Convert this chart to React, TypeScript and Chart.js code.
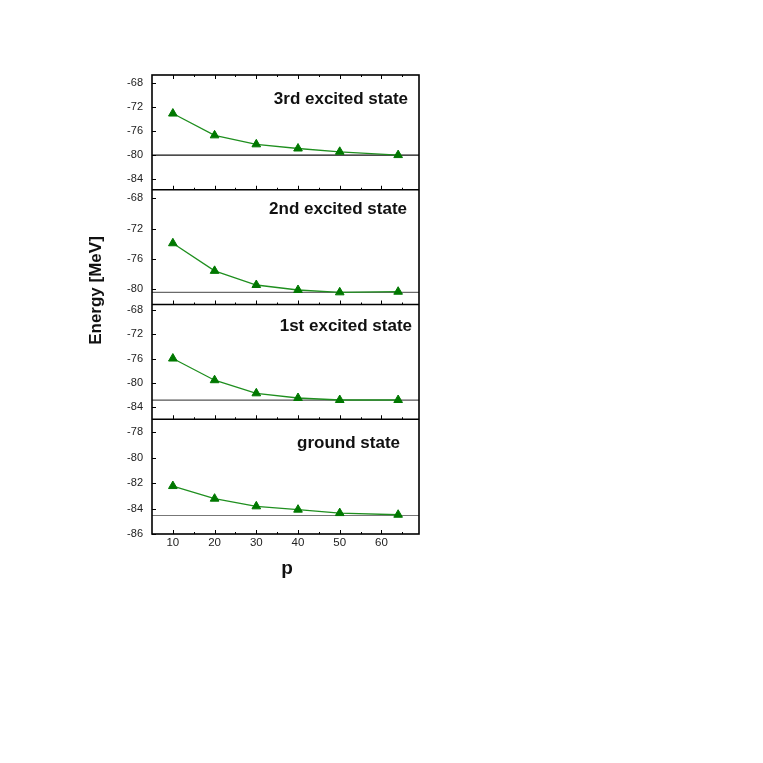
import React, { useEffect, useRef } from 'react';
import { Chart, registerables } from 'chart.js';

Chart.register(...registerables);

// ---- data ----
const pValues = [10, 20, 30, 40, 50, 64];
const thirdExcited = [-73.05, -76.7, -78.2, -78.9, -79.45, -80.0];
const secondExcited = [-73.95, -77.6, -79.47, -80.13, -80.44, -80.36];
const firstExcited = [-76.0, -79.57, -81.73, -82.5, -82.83, -82.83];
const groundState = [-82.24, -83.23, -83.83, -84.09, -84.36, -84.49];
const limitValues = [-80.0, -80.44, -82.85, -84.55];
const panelNames = ['3rd excited state', '2nd excited state', '1st excited state', 'ground state'];
const yTicksThird = [-84, -80, -76, -72, -68];
const yTicksSecond = [-80, -76, -72, -68];
const yTicksFirst = [-84, -80, -76, -72, -68];
const yTicksGround = [-86, -84, -82, -80, -78];
const yMins = [-85.8, -82.05, -86.0, -86.0];
const yMaxs = [-66.6, -66.87, -67.1, -77.0];
const xTicks = [10, 20, 30, 40, 50, 60];
const xMinorTicks = [15, 25, 35, 45, 55, 65];
const xMin = 5;
const xMax = 69;

const panelSeries = [thirdExcited, secondExcited, firstExcited, groundState];
const panelTicks = [yTicksThird, yTicksSecond, yTicksFirst, yTicksGround];
const panelIds = ['y3', 'y2', 'y1', 'y0'];

// ---- styles ----
const FONT = '"Liberation Sans", Arial, Helvetica, sans-serif';
const lineColor = '#1f8f1f';
const markerColor = '#007800';
const limitColors = ['#111111', '#6a6a6a', '#555555', '#777777'];
const labelRightGap = [11, 12, 7, 19];
const labelTopGap = [24.3, 19.3, 21.5, 24];

const framePlugin = {
  id: 'frameAndLabels',
  afterDatasetsDraw(chart: any) {
    const { ctx, chartArea: a, scales } = chart;
    const xs = scales.x;
    const line = (x1: number, y1: number, x2: number, y2: number) => {
      ctx.beginPath();
      ctx.moveTo(x1, y1);
      ctx.lineTo(x2, y2);
      ctx.stroke();
    };
    ctx.save();
    ctx.strokeStyle = '#000';
    ctx.lineWidth = 1;
    panelIds.forEach((id, i) => {
      const s = scales[id];
      panelTicks[i].forEach((v) => {
        const y = Math.round(s.getPixelForValue(v)) + 0.5;
        line(a.left, y, a.left + 4, y);
      });
      const isTop = s.top <= a.top + 1;
      xTicks.forEach((v) => {
        const x = Math.round(xs.getPixelForValue(v)) + 0.5;
        line(x, s.bottom, x, s.bottom - 4);
        if (isTop) line(x, s.top, x, s.top + 4);
      });
      xMinorTicks.forEach((v) => {
        const x = Math.round(xs.getPixelForValue(v)) + 0.5;
        line(x, s.bottom, x, s.bottom - 2);
        if (isTop) line(x, s.top, x, s.top + 2);
      });
    });
    // dividers
    ctx.lineWidth = 1.3;
    panelIds.forEach((id) => {
      const s = scales[id];
      if (s.bottom < a.bottom - 1) line(a.left, s.bottom, a.right, s.bottom);
    });
    // frame
    ctx.lineWidth = 1.6;
    ctx.strokeRect(a.left, a.top, a.right - a.left, a.bottom - a.top);

    // panel labels
    ctx.fillStyle = '#111';
    ctx.font = `bold 17px ${FONT}`;
    ctx.textAlign = 'right';
    ctx.textBaseline = 'middle';
    panelIds.forEach((id, i) => {
      const s = scales[id];
      ctx.fillText(panelNames[i], a.right - labelRightGap[i], s.top + labelTopGap[i]);
    });

    // axis titles
    ctx.font = `bold 17px ${FONT}`;
    ctx.textAlign = 'center';
    ctx.save();
    ctx.translate(a.left - 56, (a.top + a.bottom) / 2 - 14);
    ctx.rotate(-Math.PI / 2);
    ctx.fillText('Energy [MeV]', 0, 0);
    ctx.restore();
    ctx.font = `bold 19px ${FONT}`;
    ctx.fillText('p', (a.left + a.right) / 2 + 1.5, a.bottom + 35);
    ctx.restore();
  },
};

export default function App() {
  const ref = useRef<HTMLCanvasElement | null>(null);
  useEffect(() => {
    if (!ref.current) return;
    const datasets: any[] = [];
    panelIds.forEach((id, i) => {
      datasets.push({
        label: panelNames[i],
        data: pValues.map((p, k) => ({ x: p, y: panelSeries[i][k] })),
        xAxisID: 'x',
        yAxisID: id,
        borderColor: lineColor,
        borderWidth: 1.3,
        backgroundColor: markerColor,
        pointBackgroundColor: markerColor,
        pointBorderColor: markerColor,
        pointBorderWidth: 1,
        pointStyle: 'triangle',
        pointRadius: 5,
        tension: 0,
        order: 1,
      });
      datasets.push({
        label: panelNames[i] + ' limit',
        data: [
          { x: xMin, y: limitValues[i] },
          { x: xMax, y: limitValues[i] },
        ],
        xAxisID: 'x',
        yAxisID: id,
        borderColor: limitColors[i],
        borderWidth: 1.1,
        pointRadius: 0,
        tension: 0,
        order: 2,
      });
    });

    const scales: any = {
      x: {
        type: 'linear',
        position: 'bottom',
        min: xMin,
        max: xMax,
        grid: { display: false, drawTicks: false },
        border: { display: false },
        afterBuildTicks: (axis: any) => {
          axis.ticks = xTicks.map((v) => ({ value: v }));
        },
        afterFit: (axis: any) => {
          axis.height = 30;
        },
        ticks: {
          color: '#222',
          font: { family: FONT, size: 11.5 },
          padding: 2,
          maxRotation: 0,
          autoSkip: false,
        },
      },
    };
    // stacked boxes are placed bottom-first, so register from the bottom panel up
    [...panelIds].reverse().forEach((id) => {
      const i = panelIds.indexOf(id);
      scales[id] = {
        type: 'linear',
        position: 'left',
        stack: 'energy',
        stackWeight: 1,
        min: yMins[i],
        max: yMaxs[i],
        grid: { display: false, drawTicks: false },
        border: { display: false },
        afterBuildTicks: (axis: any) => {
          axis.ticks = panelTicks[i].map((v) => ({ value: v }));
        },
        afterFit: (axis: any) => {
          axis.width = 60;
        },
        ticks: {
          color: '#222',
          font: { family: FONT, size: 11 },
          padding: 9,
          autoSkip: false,
        },
      };
    });

    const chart = new Chart(ref.current, {
      type: 'line',
      data: { datasets },
      options: {
        responsive: false,
        animation: false,
        events: [],
        layout: { padding: { left: 92, top: 75, right: 344, bottom: 199 } },
        plugins: {
          legend: { display: false },
          tooltip: { enabled: false },
        },
        scales,
      },
      plugins: [framePlugin],
    });
    return () => chart.destroy();
  }, []);

  return (
    <canvas
      ref={ref}
      width={763}
      height={763}
      style={{ position: 'absolute', left: 0, top: 0, width: 763, height: 763 }}
    />
  );
}
